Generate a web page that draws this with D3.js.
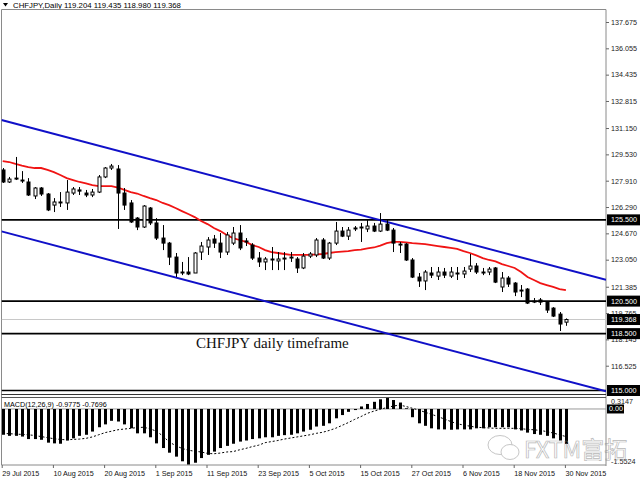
<!DOCTYPE html>
<html>
<head>
<meta charset="utf-8">
<script src="https://cdn.jsdelivr.net/npm/d3@7"></script>
<style>
body { margin: 0; background: #fff; }
svg { display: block; }
</style>
</head>
<body>
<div id="chart"></div>
<script>
// ---- data ----
const symbolTitle = "CHFJPY,Daily";
const lastBar = [119.204, 119.435, 118.980, 119.368];

const opens = [128.57,127.83,128.01,127.95,127.83,126.97,127.46,127.09,126.41,126.60,
  126.54,127.15,127.34,127.15,127.03,127.21,128.14,128.69,128.63,127.15,
  126.54,125.61,125.06,126.23,125.31,124.38,124.07,123.21,122.23,122.29,
  122.23,123.52,123.83,124.32,124.07,123.52,124.07,124.69,124.14,123.95,
  123.15,122.91,123.09,122.97,123.09,123.15,123.09,122.54,123.27,123.34,
  124.26,123.15,124.07,124.81,124.50,124.94,125.00,124.94,125.12,124.81,
  125.24,124.87,124.01,124.01,123.03,121.98,121.74,122.23,122.04,122.29,
  122.04,122.23,122.17,122.47,122.66,122.29,122.29,122.54,121.37,121.92,
  121.61,121.12,121.24,120.44,120.57,120.44,120.07,119.70,119.204];
const highs = [128.69,128.14,129.37,128.50,128.07,127.52,127.52,127.15,126.84,127.21,
  127.95,127.52,127.52,127.34,127.40,128.26,128.75,128.94,128.87,127.46,
  126.72,125.67,126.41,126.29,125.61,125.18,124.14,123.46,122.91,123.21,
  123.52,124.14,124.44,124.57,124.69,124.75,125.06,125.18,124.38,124.07,
  123.52,123.21,123.83,123.52,123.52,123.52,123.21,123.46,123.52,124.38,
  124.38,124.14,125.37,125.06,125.06,125.12,125.31,125.49,125.31,125.92,
  125.49,125.00,124.14,124.07,123.15,122.23,122.41,122.60,122.60,122.54,
  122.60,122.60,122.60,123.40,122.84,122.54,122.60,122.60,122.29,122.04,
  121.67,121.49,121.30,120.69,120.69,120.50,120.13,119.83,119.435];
const lows = [127.77,127.77,127.95,127.77,126.97,126.78,126.97,126.04,125.98,126.29,
  126.11,127.03,127.03,126.90,126.90,127.15,128.07,128.57,124.94,126.11,
  125.31,124.87,125.00,125.18,124.26,123.64,122.72,121.98,122.10,122.10,
  122.23,123.03,123.34,123.77,123.15,123.34,123.95,123.64,123.89,123.03,
  122.60,122.41,122.41,122.41,122.41,122.91,122.23,122.47,123.15,123.21,
  123.09,123.03,123.95,124.44,124.26,124.81,124.14,124.75,124.75,124.75,
  124.81,123.52,123.46,122.97,121.92,121.37,121.18,121.92,121.80,121.92,
  121.92,121.80,121.92,122.29,122.17,122.10,122.10,121.61,121.06,121.37,
  120.81,120.75,120.32,120.38,120.26,119.77,119.52,118.66,118.980];
const closes = [127.83,128.01,128.07,127.89,127.03,127.46,127.09,126.11,126.60,126.54,
  127.21,127.40,127.27,127.03,127.21,128.14,128.69,128.81,127.15,126.41,
  125.37,125.06,126.35,125.31,124.38,124.07,123.21,122.23,122.29,122.17,
  123.46,123.89,124.26,124.07,123.52,124.57,124.69,123.77,124.20,123.15,
  122.91,123.09,123.03,123.09,123.15,123.21,122.54,123.27,123.40,124.26,
  123.15,124.07,124.81,124.50,124.87,125.00,125.06,125.12,124.81,125.24,
  124.87,124.07,123.95,123.03,121.98,121.74,122.29,122.10,122.29,122.10,
  122.29,122.17,122.35,122.66,122.29,122.23,122.47,121.67,121.92,121.55,
  121.06,121.18,120.38,120.50,120.44,119.95,119.58,119.09,119.368];

// red moving average
const maValues = [129.12,129.06,128.94,128.84,128.75,128.69,128.69,128.57,128.44,128.26,
  128.07,127.95,127.83,127.74,127.64,127.58,127.58,127.58,127.49,127.34,
  127.21,127.12,126.97,126.84,126.72,126.54,126.41,126.23,126.04,125.86,
  125.67,125.43,125.24,125.00,124.81,124.57,124.38,124.26,124.14,123.95,
  123.83,123.64,123.52,123.46,123.40,123.34,123.34,123.34,123.34,123.37,
  123.40,123.46,123.52,123.55,123.58,123.64,123.67,123.74,123.80,123.92,
  124.07,124.14,124.14,124.11,124.07,124.04,124.01,123.95,123.89,123.83,
  123.77,123.71,123.58,123.46,123.31,123.15,123.03,122.94,122.78,122.66,
  122.54,122.29,121.98,121.80,121.61,121.49,121.37,121.24,121.18];

// MACD(12,26,9): main (histogram) and signal (dotted)
const macdValues = [-0.72,-0.75,-0.75,-0.77,-0.84,-0.84,-0.86,-0.94,-0.96,-0.97,
  -0.88,-0.82,-0.75,-0.72,-0.63,-0.51,-0.43,-0.33,-0.35,-0.43,
  -0.54,-0.68,-0.68,-0.79,-0.96,-1.09,-1.22,-1.33,-1.46,-1.55,
  -1.50,-1.37,-1.28,-1.19,-1.09,-1.03,-0.97,-0.91,-0.88,-0.84,
  -0.82,-0.79,-0.79,-0.75,-0.73,-0.72,-0.68,-0.63,-0.58,-0.49,
  -0.47,-0.40,-0.26,-0.17,-0.08,-0.03,0.07,0.14,0.20,0.27,
  0.31,0.25,0.18,0.02,-0.23,-0.40,-0.47,-0.54,-0.57,-0.57,
  -0.58,-0.57,-0.57,-0.57,-0.54,-0.54,-0.51,-0.51,-0.51,-0.51,
  -0.57,-0.60,-0.66,-0.70,-0.72,-0.75,-0.82,-0.88,-0.9775];
const signalValues = [-0.68,-0.69,-0.70,-0.71,-0.72,-0.74,-0.77,-0.80,-0.83,-0.85,
  -0.86,-0.85,-0.84,-0.82,-0.78,-0.72,-0.66,-0.62,-0.58,-0.56,
  -0.54,-0.52,-0.51,-0.55,-0.62,-0.75,-0.92,-1.02,-1.10,-1.15,
  -1.18,-1.20,-1.24,-1.25,-1.23,-1.20,-1.19,-1.14,-1.10,-1.05,
  -1.01,-0.94,-0.91,-0.88,-0.84,-0.81,-0.78,-0.75,-0.72,-0.68,
  -0.65,-0.60,-0.54,-0.46,-0.38,-0.29,-0.21,-0.12,-0.06,-0.01,
  0.04,0.08,0.11,0.07,0.02,-0.03,-0.09,-0.15,-0.21,-0.28,
  -0.35,-0.41,-0.45,-0.48,-0.51,-0.52,-0.53,-0.54,-0.54,-0.54,
  -0.54,-0.55,-0.57,-0.58,-0.60,-0.63,-0.67,-0.72,-0.7696];

const priceTicks = [137.675,136.055,134.435,132.815,131.150,129.530,127.910,126.290,
  124.670,123.050,121.385,119.765,118.145,116.525];
const levelLines = [125.500, 120.500, 118.500, 115.000];
const bidPrice = 119.368;
const macdTicks = [0.3147, -1.5524];
const dateTickLabels = ["29 Jul 2015","10 Aug 2015","20 Aug 2015","1 Sep 2015","11 Sep 2015",
  "23 Sep 2015","5 Oct 2015","15 Oct 2015","27 Oct 2015","6 Nov 2015","18 Nov 2015","30 Nov 2015"];

// blue channel: two anchor points each, [bar index, price]
const channelUpper = [[0, 131.63], [88, 122.46]];
const channelLower = [[0, 124.77], [88, 115.60]];

// trading days (weekdays) 29 Jul – 30 Nov 2015
const dates = d3.timeDay.range(new Date(2015, 6, 29), new Date(2015, 11, 1))
  .filter(d => d.getDay() !== 0 && d.getDay() !== 6);
const fmtDate = d3.timeFormat("%-d %b %Y");

// ---- layout ----
const W = 640, H = 480;
const plotLeft = 1.5, plotRight = 606;
const mainTop = 9.5, mainBottom = 394.5;
const macdTop = 397.5, macdBottom = 465;
const font = "'Liberation Sans', Arial, sans-serif";

const svg = d3.select("#chart").append("svg")
  .attr("width", W).attr("height", H)
  .style("font-family", font);

const x = d3.scaleLinear().domain([0, dates.length - 1]).range([2.7, 565.9]);
const y = d3.scaleLinear().domain([115, 137.675]).range([390.5, 22]);
const yM = d3.scaleLinear().domain([-1.5524, 0.3147]).range([464.6, 397.7]);

const defs = svg.append("defs");
defs.append("clipPath").attr("id", "mainClip").append("rect")
  .attr("x", plotLeft).attr("y", mainTop).attr("width", plotRight - plotLeft).attr("height", mainBottom - mainTop);
defs.append("clipPath").attr("id", "macdClip").append("rect")
  .attr("x", plotLeft).attr("y", macdTop).attr("width", plotRight - plotLeft).attr("height", macdBottom - macdTop);

// header
svg.append("polygon").attr("points", "3,3 8,3 5.5,6.5").attr("fill", "#000");
svg.append("text").attr("x", 13).attr("y", 7.5)
  .attr("font-size", 7.8).attr("fill", "#000")
  .text(symbolTitle + "  " + lastBar.map(d => d.toFixed(3)).join(" "));

// frame
const frame = svg.append("g").attr("stroke", "#8a8a8a").attr("stroke-width", 1).attr("fill", "none");
frame.append("line").attr("x1", plotLeft).attr("x2", plotRight).attr("y1", mainTop).attr("y2", mainTop);
frame.append("line").attr("x1", plotLeft).attr("x2", plotLeft).attr("y1", mainTop).attr("y2", macdBottom);
frame.append("line").attr("x1", plotRight).attr("x2", plotRight).attr("y1", mainTop).attr("y2", macdBottom + 1);
frame.append("line").attr("x1", plotLeft).attr("x2", plotRight).attr("y1", mainBottom).attr("y2", mainBottom).attr("stroke", "#333");
frame.append("line").attr("x1", plotLeft).attr("x2", plotRight).attr("y1", macdTop).attr("y2", macdTop).attr("stroke", "#555");
frame.append("line").attr("x1", plotLeft).attr("x2", plotRight).attr("y1", macdBottom).attr("y2", macdBottom);

// right price axis
const yAxis = svg.append("g")
  .attr("transform", `translate(${plotRight},0)`)
  .call(d3.axisRight(y).tickValues(priceTicks).tickSize(3).tickPadding(2).tickFormat(d3.format(".3f")));
yAxis.select(".domain").remove();
yAxis.selectAll("line").attr("stroke", "#666");
yAxis.selectAll("text").attr("font-size", 7.2).attr("font-family", font).attr("fill", "#222");

const main = svg.append("g").attr("clip-path", "url(#mainClip)");

// bid line
main.append("line")
  .attr("x1", plotLeft).attr("x2", plotRight)
  .attr("y1", y(bidPrice)).attr("y2", y(bidPrice))
  .attr("stroke", "#c8c8c8").attr("stroke-width", 1);

// horizontal levels
main.selectAll(".level").data(levelLines).enter().append("line")
  .attr("class", "level")
  .attr("x1", plotLeft).attr("x2", plotRight)
  .attr("y1", d => y(d)).attr("y2", d => y(d))
  .attr("stroke", "#000").attr("stroke-width", 1.6);

// channel lines, extended to the panel edges
function extendLine(pts) {
  const [[i1, p1], [i2, p2]] = pts;
  const k = (p2 - p1) / (i2 - i1);
  const iL = x.invert(plotLeft), iR = x.invert(plotRight);
  return [[x(iL), y(p1 + k * (iL - i1))], [x(iR), y(p1 + k * (iR - i1))]];
}
[channelUpper, channelLower].forEach(pts => {
  main.append("path")
    .attr("d", d3.line()(extendLine(pts)))
    .attr("stroke", "#1010c8").attr("stroke-width", 2).attr("fill", "none");
});

// moving average
main.append("path")
  .datum(maValues)
  .attr("d", d3.line().x((d, i) => x(i)).y(d => y(d)))
  .attr("stroke", "#f01414").attr("stroke-width", 1.8).attr("fill", "none");

// candles
const candles = dates.map((d, i) => ({ i, o: opens[i], h: highs[i], l: lows[i], c: closes[i] }));
const cg = main.append("g");
cg.selectAll(".wick").data(candles).enter().append("line")
  .attr("x1", d => Math.round(x(d.i)) + 0.5).attr("x2", d => Math.round(x(d.i)) + 0.5)
  .attr("y1", d => y(d.h)).attr("y2", d => y(d.l))
  .attr("stroke", "#000").attr("stroke-width", 1);
cg.selectAll(".body").data(candles).enter().append("rect")
  .attr("x", d => Math.round(x(d.i)) - 1)
  .attr("width", 3)
  .attr("y", d => y(Math.max(d.o, d.c)))
  .attr("height", d => Math.max(0.6, Math.abs(y(d.o) - y(d.c))))
  .attr("fill", d => d.c >= d.o ? "#fff" : "#000")
  .attr("stroke", "#000").attr("stroke-width", 1);

// caption
svg.append("text").attr("x", 196).attr("y", 348)
  .attr("font-family", "'Liberation Serif', 'Times New Roman', serif")
  .attr("font-size", 15).attr("fill", "#111")
  .text("CHFJPY daily timeframe");

// highlighted price labels
const tags = levelLines.concat([bidPrice]);
const tg = svg.append("g");
tg.selectAll("rect").data(tags).enter().append("rect")
  .attr("x", plotRight + 1).attr("width", 34)
  .attr("y", d => y(d) - 5.5).attr("height", 11)
  .attr("fill", "#000");
tg.selectAll("text").data(tags).enter().append("text")
  .attr("x", plotRight + 5).attr("y", d => y(d)).attr("dy", "0.35em")
  .attr("font-size", 7.2).attr("fill", "#fff")
  .text(d => d.toFixed(3));

// ---- MACD panel ----
const macd = svg.append("g").attr("clip-path", "url(#macdClip)");
macd.append("line")
  .attr("x1", plotLeft).attr("x2", plotRight)
  .attr("y1", yM(0)).attr("y2", yM(0))
  .attr("stroke", "#999").attr("stroke-width", 1);
macd.selectAll(".hist").data(macdValues).enter().append("rect")
  .attr("x", (d, i) => Math.round(x(i)) - 1)
  .attr("width", 3)
  .attr("y", d => Math.min(yM(d), yM(0)))
  .attr("height", d => Math.abs(yM(d) - yM(0)))
  .attr("fill", "#000");
macd.append("path")
  .datum(signalValues)
  .attr("d", d3.line().x((d, i) => x(i)).y(d => yM(d)))
  .attr("stroke", "#000").attr("stroke-width", 1).attr("stroke-dasharray", "2,2")
  .attr("fill", "none");

svg.append("text").attr("x", 4).attr("y", 406.5)
  .attr("font-size", 7.2).attr("fill", "#000")
  .text(`MACD(12,26,9) ${macdValues[macdValues.length - 1].toFixed(4)} ${signalValues[signalValues.length - 1].toFixed(4)}`);

// MACD scale labels
svg.append("text").attr("x", plotRight + 5).attr("y", yM(macdTicks[0]) + 6.5)
  .attr("font-size", 7.2).attr("fill", "#222").text(macdTicks[0].toFixed(4));
svg.append("text").attr("x", plotRight + 5).attr("y", yM(macdTicks[1]) - 1)
  .attr("font-size", 7.2).attr("fill", "#222").text(macdTicks[1].toFixed(4));
svg.append("rect").attr("x", plotRight + 1).attr("y", yM(0) - 4.5).attr("width", 17).attr("height", 9).attr("fill", "#000");
svg.append("text").attr("x", plotRight + 3).attr("y", yM(0)).attr("dy", "0.35em")
  .attr("font-size", 7.2).attr("fill", "#fff").text("0.00");

// ---- time axis ----
const tickIdx = dateTickLabels.map(s => dates.findIndex(d => fmtDate(d) === s));
const xAxis = svg.append("g")
  .attr("transform", `translate(0,${macdBottom})`)
  .call(d3.axisBottom(x).tickValues(tickIdx).tickSize(3).tickPadding(3).tickFormat(i => fmtDate(dates[i])));
xAxis.select(".domain").remove();
xAxis.selectAll("line").attr("stroke", "#666").attr("transform", "translate(-1,0)");
xAxis.selectAll("text")
  .attr("text-anchor", "start").attr("x", -1)
  .attr("font-size", 7.2).attr("font-family", font).attr("fill", "#111");

// watermark
const wm = svg.append("g").attr("fill", "none").attr("stroke", "#9a9a9a").attr("stroke-width", 0.8).attr("opacity", 0.7);
wm.append("ellipse").attr("cx", 500).attr("cy", 445).attr("rx", 12).attr("ry", 9.5);
wm.append("ellipse").attr("cx", 510).attr("cy", 452).attr("rx", 9).attr("ry", 7.5).attr("fill", "#fff");
wm.append("text").attr("x", 524).attr("y", 458)
  .attr("font-family", "'Noto Sans CJK SC', 'Noto Sans', sans-serif")
  .attr("font-size", 23).attr("stroke-width", 0.7)
  .text("FXTM富拓");
</script>
</body>
</html>
